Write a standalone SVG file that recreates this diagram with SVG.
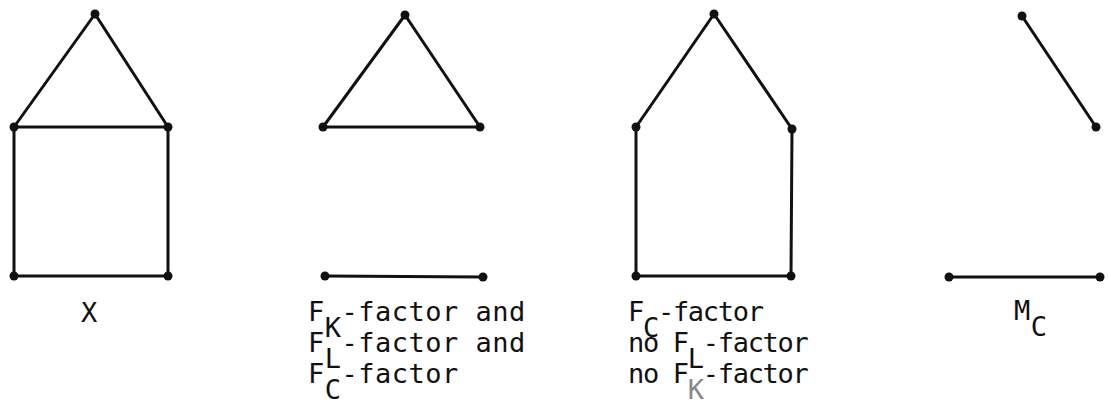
<svg xmlns="http://www.w3.org/2000/svg" width="1108" height="405" viewBox="0 0 1108 405">
<style>
.e{stroke:#111;stroke-width:3;fill:none;stroke-linecap:round}
.n{fill:#111}
.t{font-family:"DejaVu Sans Mono","Liberation Mono",monospace;font-size:27px;fill:#111;letter-spacing:0.5px}
.t3{letter-spacing:-1.3px}
.g{fill:#888}
</style>
<rect width="1108" height="405" fill="#fff"/>
<g id="connectors">
<line class="e" x1="95" y1="14" x2="14" y2="127"/>
<line class="e" x1="95" y1="14" x2="168" y2="127"/>
<line class="e" x1="14" y1="127" x2="168" y2="127"/>
<line class="e" x1="14" y1="127" x2="14" y2="276"/>
<line class="e" x1="168" y1="127" x2="168" y2="276"/>
<line class="e" x1="14" y1="276" x2="168" y2="276"/>
<line class="e" x1="405" y1="15" x2="323" y2="127"/>
<line class="e" x1="405" y1="15" x2="480" y2="127"/>
<line class="e" x1="323" y1="127" x2="480" y2="127"/>
<line class="e" x1="325" y1="276" x2="483" y2="277"/>
<line class="e" x1="714" y1="14" x2="636" y2="127"/>
<line class="e" x1="714" y1="14" x2="792" y2="129"/>
<line class="e" x1="636" y1="127" x2="636" y2="276"/>
<line class="e" x1="792" y1="129" x2="791" y2="276"/>
<line class="e" x1="636" y1="276" x2="791" y2="276"/>
<line class="e" x1="1022" y1="16" x2="1096" y2="127"/>
<line class="e" x1="949" y1="277" x2="1100" y2="277"/>
</g>
<g id="nodes">
<g id="x-top"><circle class="n" cx="95" cy="14" r="4.5"/></g>
<g id="x-left"><circle class="n" cx="14" cy="127" r="4.5"/></g>
<g id="x-right"><circle class="n" cx="168" cy="127" r="4.5"/></g>
<g id="x-bl"><circle class="n" cx="14" cy="276" r="4.5"/></g>
<g id="x-br"><circle class="n" cx="168" cy="276" r="4.5"/></g>
<g id="f-top"><circle class="n" cx="405" cy="15" r="4.5"/></g>
<g id="f-left"><circle class="n" cx="323" cy="127" r="4.5"/></g>
<g id="f-right"><circle class="n" cx="480" cy="127" r="4.5"/></g>
<g id="f-bl"><circle class="n" cx="325" cy="276" r="4.5"/></g>
<g id="f-br"><circle class="n" cx="483" cy="277" r="4.5"/></g>
<g id="c-top"><circle class="n" cx="714" cy="14" r="4.5"/></g>
<g id="c-left"><circle class="n" cx="636" cy="127" r="4.5"/></g>
<g id="c-right"><circle class="n" cx="792" cy="129" r="4.5"/></g>
<g id="c-bl"><circle class="n" cx="636" cy="276" r="4.5"/></g>
<g id="c-br"><circle class="n" cx="791" cy="276" r="4.5"/></g>
<g id="m-top"><circle class="n" cx="1022" cy="16" r="4.5"/></g>
<g id="m-right"><circle class="n" cx="1096" cy="127" r="4.5"/></g>
<g id="m-bl"><circle class="n" cx="949" cy="277" r="4.5"/></g>
<g id="m-br"><circle class="n" cx="1100" cy="277" r="4.5"/></g>
</g>
<g id="labels">
<text class="t" x="81" y="322">X</text>
<text class="t" x="308" y="321">F<tspan dy="16">K</tspan><tspan dy="-16">-factor and</tspan></text>
<text class="t" x="308" y="352">F<tspan dy="16">L</tspan><tspan dy="-16">-factor and</tspan></text>
<text class="t" x="308" y="383">F<tspan dy="16">C</tspan><tspan dy="-16">-factor</tspan></text>
<text class="t t3" x="628" y="321">F<tspan dy="16">C</tspan><tspan dy="-16">-factor</tspan></text>
<text class="t t3" x="628" y="352">no F<tspan dy="16">L</tspan><tspan dy="-16">-factor</tspan></text>
<text class="t t3" x="628" y="383">no F<tspan dy="16" class="g">K</tspan><tspan dy="-16">-factor</tspan></text>
<text class="t" x="1014" y="320">M<tspan dy="16">C</tspan></text>
</g>
</svg>
